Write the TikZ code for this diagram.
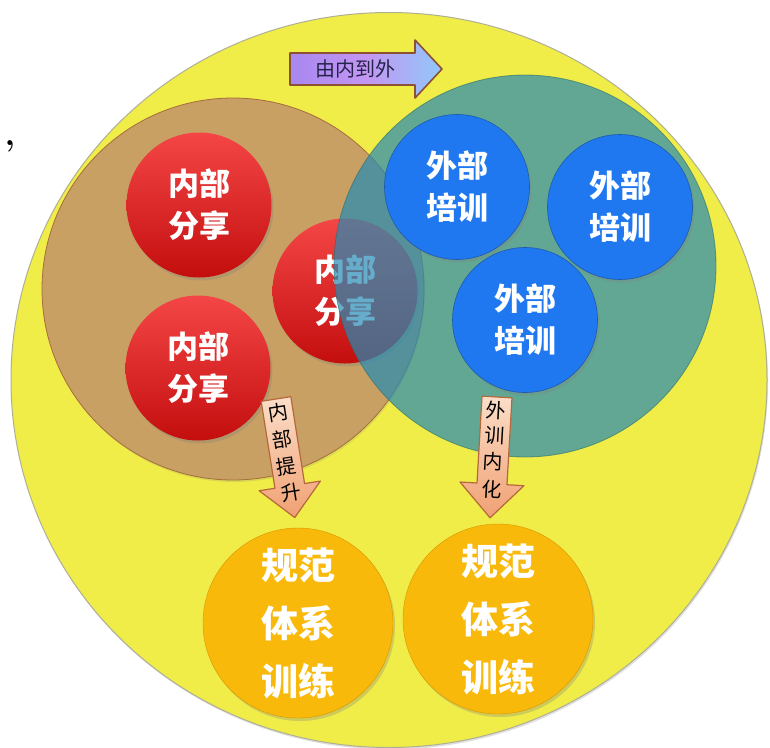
\documentclass[tikz,border=0pt]{standalone}
\usepackage{fontspec}
\newfontfamily\cjk{Noto Sans CJK SC}
\usetikzlibrary{shadows,shapes.geometric}
\definecolor{yelF}{RGB}{240,236,72}
\definecolor{yelD}{RGB}{175,175,150}
\definecolor{brnF}{RGB}{201,160,99}
\definecolor{brnD}{RGB}{165,110,60}
\definecolor{tealF}{RGB}{37,139,180}
\definecolor{tealD}{RGB}{40,110,110}
\definecolor{redA}{RGB}{244,70,70}
\definecolor{redB}{RGB}{196,14,14}
\definecolor{bluF}{RGB}{31,120,240}
\definecolor{bluD}{RGB}{30,90,170}
\definecolor{orgF}{RGB}{249,185,10}
\definecolor{orgD}{RGB}{215,150,0}
\definecolor{arrV}{RGB}{168,135,240}
\definecolor{arrM}{RGB}{195,150,242}
\definecolor{arrB}{RGB}{145,200,250}
\definecolor{arrD}{RGB}{140,80,50}
\definecolor{pchA}{RGB}{251,222,200}
\definecolor{pchB}{RGB}{240,160,115}
\definecolor{pchD}{RGB}{180,105,60}
\definecolor{navy}{RGB}{35,35,75}
\begin{document}
\begin{tikzpicture}[x=1pt,y=-1pt,
  ball/.style={circle, inner sep=0pt, align=center, text=white,
    font=\cjk\bfseries\fontsize{31}{42}\selectfont},
  softshadow/.style={drop shadow={opacity=0.3, shadow xshift=2pt, shadow yshift=-3pt}},
  redball/.style={ball, minimum size=145pt, top color=redA, bottom color=redB, softshadow},
  bluball/.style={ball, minimum size=145pt, fill=bluF, draw=bluD, line width=0.6pt, softshadow},
  orgball/.style={ball, minimum size=190pt, fill=orgF, draw=orgD, line width=0.4pt, softshadow,
    font=\cjk\bfseries\fontsize{37}{58}\selectfont},
  bigring/.style={circle, inner sep=0pt, minimum size=382pt, line width=0.8pt},
  downarrow/.style={draw=pchD, line width=1.2pt, top color=pchA, bottom color=pchB, line join=round},
  arrowchar/.style={inner sep=0pt, text=black, font=\cjk\fontsize{20}{20}\selectfont, transform shape},
]
\useasboundingbox (0,0) rectangle (770,747);
% outer yellow disc
\node[ellipse, inner sep=0pt, minimum width=756pt, minimum height=735pt,
  fill=yelF, draw=yelD, line width=1pt,
  drop shadow={opacity=0.25, shadow xshift=1pt, shadow yshift=-2pt}] (outer) at (389,380) {};
% stray comma
\node[inner sep=0pt, font=\bfseries\fontsize{34}{34}\selectfont] (comma) at (10,146) {,};
% top arrow
\draw[draw=arrD, line width=1.6pt, left color=arrV, right color=arrB, middle color=arrM, line join=round]
  (290,53) -- (415,53) -- (415,40) -- (442,69) -- (415,98) -- (415,85) -- (290,85) -- cycle;
\node[inner sep=0pt, text=navy, font=\cjk\fontsize{20}{20}\selectfont] (dir) at (355,69) {由内到外};
% brown (inner) circle
\node[bigring, fill=brnF, draw=brnD, drop shadow={opacity=0.2, shadow xshift=1pt, shadow yshift=-2pt}] (inner) at (233,289) {};
% red circles
\node[redball] (r1) at (199,205) {内部\\分享};
\node[redball] (r2) at (198,368) {内部\\分享};
\node[redball] (r3) at (345,291) {内部\\分享};
% teal (outer training) circle, translucent
\node[bigring, fill=tealF, fill opacity=0.7, draw=tealD, draw opacity=0.6] (ext) at (525,266) {};
% blue circles
\node[bluball] (b1) at (457,187) {外部\\培训};
\node[bluball] (b2) at (620,207) {外部\\培训};
\node[bluball] (b3) at (525,320) {外部\\培训};
% left down arrow
\begin{scope}[shift={(276,399)}, rotate=9]
  \draw[downarrow] (-15,0) -- (15,0) -- (15,88) -- (31,88) -- (0,120) -- (-31,88) -- (-15,88) -- cycle;
  \node[arrowchar] (la1) at (0,14) {内};
  \node[arrowchar] (la2) at (0,41) {部};
  \node[arrowchar] (la3) at (0,68) {提};
  \node[arrowchar] (la4) at (0,95) {升};
\end{scope}
% right down arrow
\begin{scope}[shift={(497,397)}, rotate=-3.3]
  \draw[downarrow] (-15,0) -- (15,0) -- (15,87) -- (32,87) -- (0,121) -- (-32,87) -- (-15,87) -- cycle;
  \node[arrowchar] (ra1) at (0,13) {外};
  \node[arrowchar] (ra2) at (0,39) {训};
  \node[arrowchar] (ra3) at (0,65) {内};
  \node[arrowchar] (ra4) at (0,93) {化};
\end{scope}
% orange circles
\node[orgball] (o1) at (298,623) {规范\\体系\\训练};
\node[orgball] (o2) at (498,619) {规范\\体系\\训练};
\end{tikzpicture}
\end{document}
